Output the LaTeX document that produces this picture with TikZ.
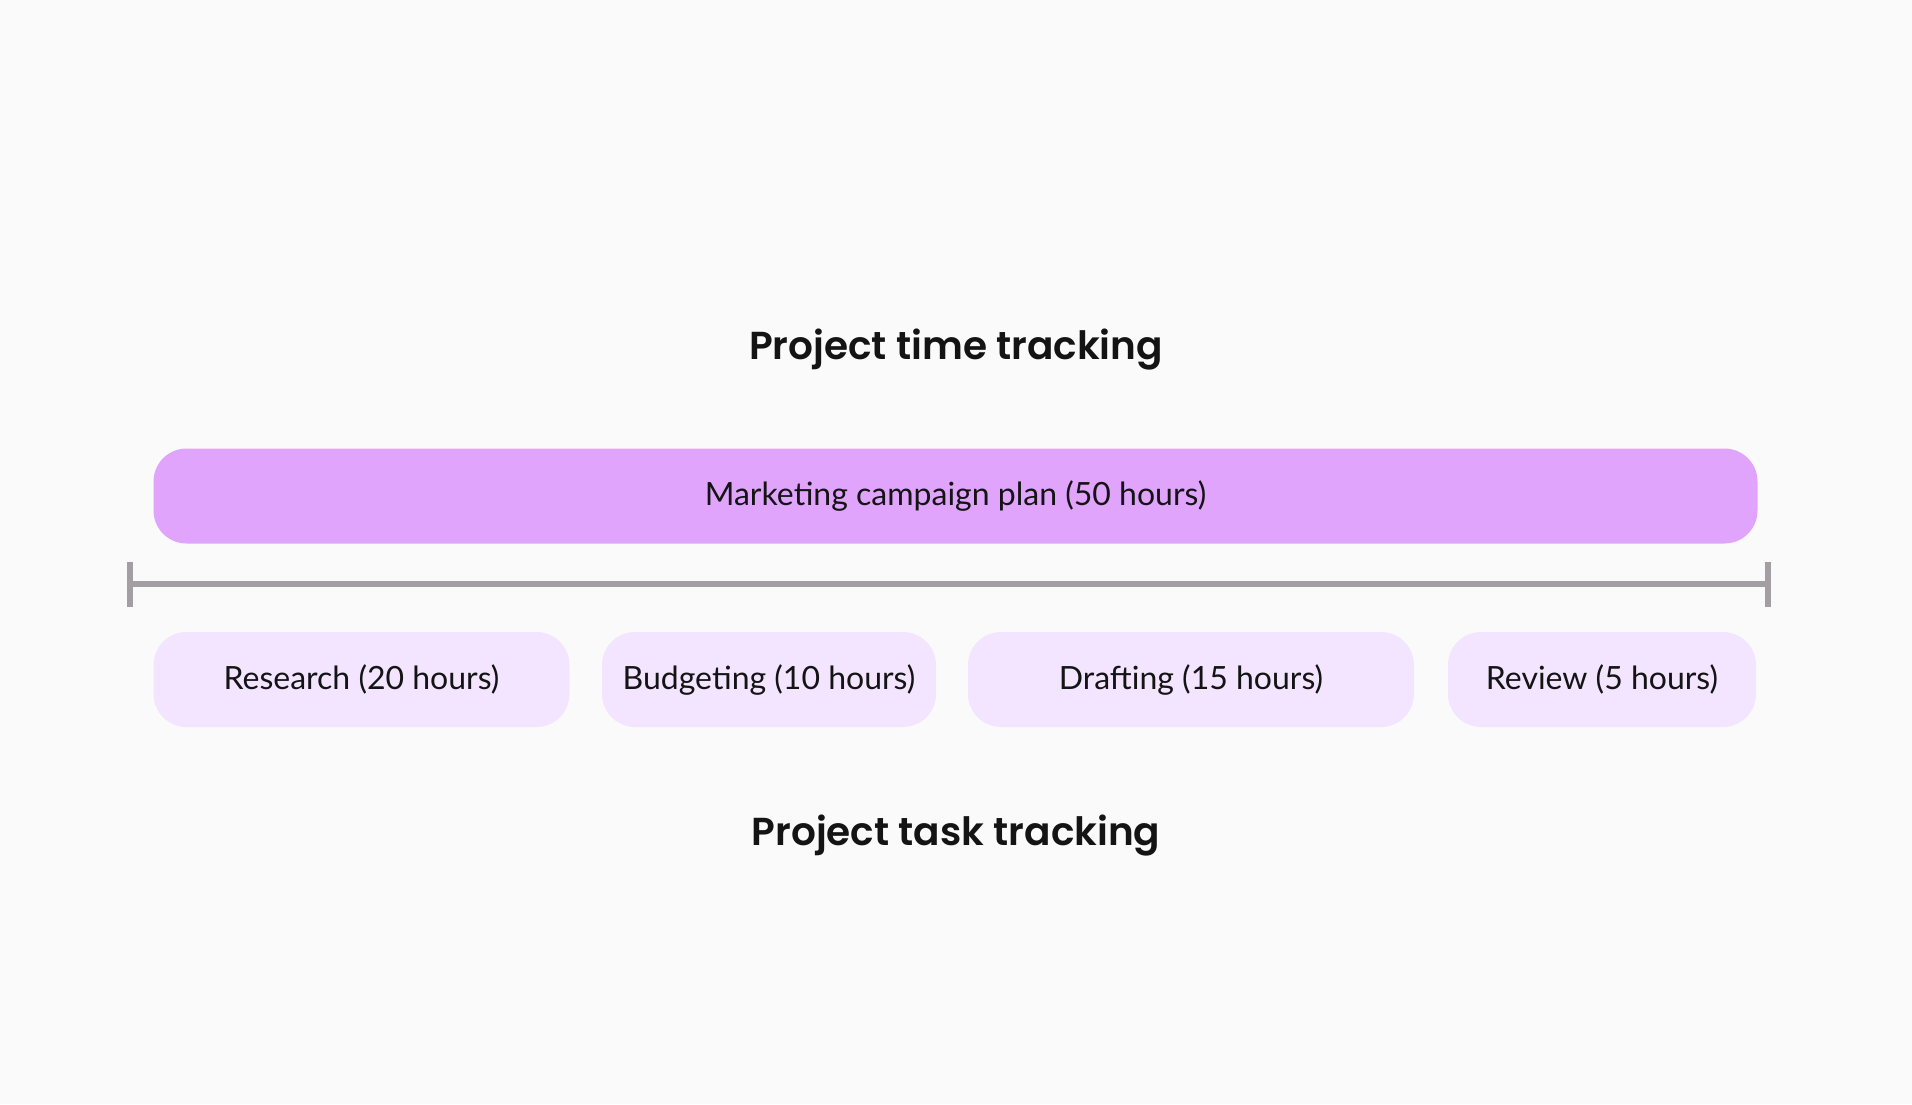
\documentclass[tikz,border=0pt]{standalone}
\usepackage{fontspec}
\setmainfont{Lato}
\newfontfamily\titlefont{Poppins}[BoldFont={Poppins SemiBold}]
\usepackage{tikz}
\usetikzlibrary{positioning}

\definecolor{bgcol}{HTML}{FAFAFA}
\definecolor{planfill}{HTML}{E0A4FD}
\definecolor{taskfill}{HTML}{F3E5FF}
\definecolor{rulecol}{HTML}{A29EA1}
\definecolor{inkcol}{HTML}{141414}

\begin{document}
\begin{tikzpicture}
[x=1pt, y=-1pt,
 every node/.style ={text=inkcol},
 heading/.style ={font=\titlefont\bfseries\fontsize{39}{43}\selectfont, anchor=base},
 plan/.style ={rectangle, fill=planfill, rounded corners=33pt, minimum width=1604pt, minimum height=95pt, inner sep=0pt, font=\fontsize{32}{38}\selectfont},
 task/.style ={rectangle, fill=taskfill, rounded corners=33pt, minimum height=95pt, inner sep=0pt, font=\fontsize{32}{38}\selectfont},
 rule/.style ={draw=rulecol, line width=6pt}]
\fill[bgcol] (0, 0) rectangle (1912, 1104);
\useasboundingbox (0, 0) rectangle (1912, 1104);
\draw (956, 359) node[heading] (top) {Project time tracking};
\draw (955.5, 496) node[plan] (mcp) {Marketing campaign plan (50 hours)};
\coordinate (tl) at (130, 584);
\coordinate (tr) at (1768, 584);
\draw[rule] (tl) -- (tr);
\draw[rule] ([yshift=-22.5pt]tl) -- ([yshift=22.5pt]tl);
\draw[rule] ([yshift=-22.5pt]tr) -- ([yshift=22.5pt]tr);
\draw (361.5, 679.5) node[task, minimum width=416pt] (res) {Research (20 hours)};
\draw (769, 679.5) node[task, minimum width=334pt] (bud) {Budgeting (10 hours)};
\draw (1191, 679.5) node[task, minimum width=446pt] (dra) {Drafting (15 hours)};
\draw (1602, 679.5) node[task, minimum width=308pt] (rev) {Review (5 hours)};
\draw (956, 845) node[heading] (bot) {Project task tracking};
\end{tikzpicture}
\end{document}
